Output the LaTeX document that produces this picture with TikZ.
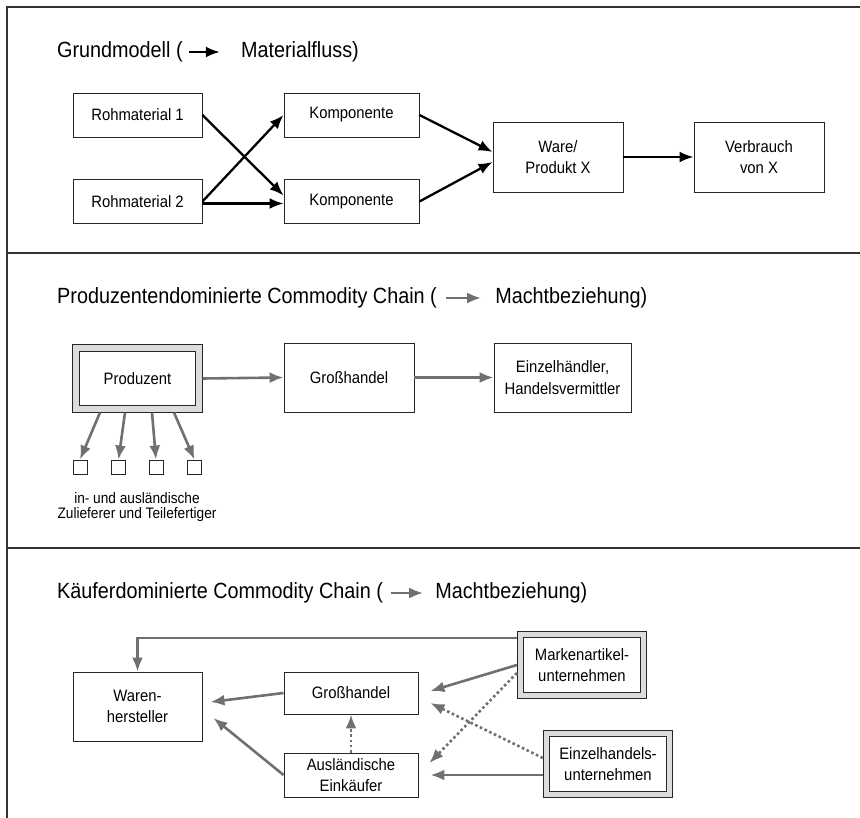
\documentclass[tikz,border=0pt]{standalone}
\usepackage{fontspec}
\setmainfont{Liberation Sans}[FakeStretch=0.9]
\usetikzlibrary{arrows.meta,positioning}
\definecolor{powergray}{HTML}{707070}
\definecolor{boxgray}{HTML}{DCDCDC}
\definecolor{framegray}{HTML}{333333}
\tikzset{
  box/.style={
    draw=black!85,
    line width=0.9pt,
    fill=white,
    align=center,
    inner sep=2pt,
    font=\fontsize{16.5}{21.7}\selectfont
  },
  dombox/.style={
    box,
    double=boxgray,
    double distance=5.5pt,
    outer sep=3.6pt,
    minimum width=123pt,
    minimum height=61pt
  },
  supplier/.style={
    draw=black!85,
    line width=0.9pt,
    minimum size=14pt,
    inner sep=0pt
  },
  flow/.style={
    -{Latex[length=14pt,width=11pt]},
    line width=2.3pt
  },
  power/.style={
    -{Latex[length=14pt,width=11pt]},
    draw=powergray,
    line width=2.6pt
  },
  powerdot/.style={
    power,
    dash pattern=on 2.6pt off 2.6pt
  },
  heading/.style={
    inner sep=0pt,
    anchor=west,
    font=\fontsize{22}{26}\selectfont
  },
  note/.style={
    align=center,
    font=\fontsize{15.2}{15.7}\selectfont
  },
  frame/.style={
    draw=framegray,
    line width=2pt
  }
}
\begin{document}
\begin{tikzpicture}[x=1pt,y=-1pt]
  \useasboundingbox (0,0) rectangle (860,818);
  % frame and panel separators
  \draw[frame] (860,7) -- (7,7) -- (7,818);
  \draw[frame] (7,253) -- (860,253);
  \draw[frame] (7,548) -- (860,548);

  % --- Grundmodell
  \node[heading] (h1a) at (57,52) {Grundmodell (};
  \node[heading, right=58pt of h1a] (h1b) {Materialfluss)};
  \draw[flow] ([xshift=6pt]h1a.east) -- ([xshift=-21pt]h1b.west);

  \node[box, minimum width=129pt, minimum height=44pt] (rm1) at (137.5,115) {Rohmaterial 1};
  \node[box, minimum width=129pt, minimum height=44pt] (rm2) at (137.5,201.5) {Rohmaterial 2};
  \node[box, minimum width=135pt, minimum height=44pt] (kp1) at (351.5,115) {Komponente};
  \node[box, minimum width=135pt, minimum height=44pt] (kp2) at (351.5,201.5) {Komponente};
  \node[box, minimum width=130pt, minimum height=70pt] (ware) at (558,157) {Ware/\\Produkt X};
  \node[box, minimum width=130pt, minimum height=70pt] (verbr) at (759,157) {Verbrauch\\von X};

  \draw[flow] (rm1.east) -- ([yshift=6pt]kp2.west);
  \draw[flow] (rm2.east) -- (kp1.west);
  \draw[flow] ([yshift=-2pt]rm2.east) -- ([yshift=-2pt]kp2.west);
  \draw[flow] (kp1.east) -- ([yshift=5pt]ware.west);
  \draw[flow] (kp2.east) -- ([yshift=-5pt]ware.west);
  \draw[flow] (ware.east) -- (verbr.west);

  % --- Produzentendominierte Commodity Chain
  \node[heading] (h2a) at (57,298) {Produzentendominierte Commodity Chain (};
  \node[heading, right=58pt of h2a] (h2b) {Machtbeziehung)};
  \draw[power] ([xshift=9pt]h2a.east) -- ([xshift=-14pt]h2b.west);

  \node[dombox] (prod) at (137.5,378.5) {Produzent};
  \node[box, minimum width=130pt, minimum height=69pt] (gh2) at (349,377.5) {Großhandel};
  \node[box, minimum width=137pt, minimum height=69pt] (ezh) at (562.5,377.5) {Einzelhändler,\\Handelsvermittler};
  \draw[power] (prod.east) -- (gh2.west);
  \draw[power] (gh2.east) -- (ezh.west);

  \foreach \i/\x in {1/80,2/118.5,3/156,4/194.5}
    \node[supplier] (s\i) at (\x,467) {};
  \foreach \i/\dx in {1/-37.5,2/-12.5,3/14.5,4/36.5}
    \draw[power] ([xshift=\dx pt]prod.south) -- (s\i.north);
  \node[note] (supp) at (137,507) {in- und ausländische\\Zulieferer und Teilefertiger};

  % --- Käuferdominierte Commodity Chain
  \node[heading] (h3a) at (57,593) {Käuferdominierte Commodity Chain (};
  \node[heading, right=52pt of h3a] (h3b) {Machtbeziehung)};
  \draw[power] ([xshift=8pt]h3a.east) -- ([xshift=-12pt]h3b.west);

  \node[box, minimum width=129pt, minimum height=69pt] (wh) at (137.5,706.5) {Waren-\\hersteller};
  \node[box, minimum width=134pt, minimum height=42pt] (gh3) at (351,693) {Großhandel};
  \node[box, minimum width=134pt, minimum height=44pt] (ausl) at (351,775) {Ausländische\\Einkäufer};
  \node[dombox] (mark) at (582,665) {Markenartikel-\\unternehmen};
  \node[dombox] (ezu) at (608,764) {Einzelhandels-\\unternehmen};

  \draw[power] ([yshift=27pt]mark.west) -| (wh.north);
  \draw[power] (mark.west) -- ([xshift=12pt,yshift=2pt]gh3.east);
  \draw[powerdot] ([yshift=-8pt]mark.west) -- ([xshift=11pt,yshift=12pt]ausl.east);
  \draw[powerdot] ([yshift=6pt]ezu.west) -- ([xshift=12pt,yshift=-10pt]gh3.east);
  \draw[power] ([yshift=-11pt]ezu.west) -- ([xshift=12pt]ausl.east);
  \draw[power] (gh3.west) -- ([xshift=8pt,yshift=4.5pt]wh.east);
  \draw[power] (ausl.west) -- ([xshift=11pt,yshift=-11.5pt]wh.east);
  \draw[powerdot] (ausl.north) -- (gh3.south);
\end{tikzpicture}
\end{document}
